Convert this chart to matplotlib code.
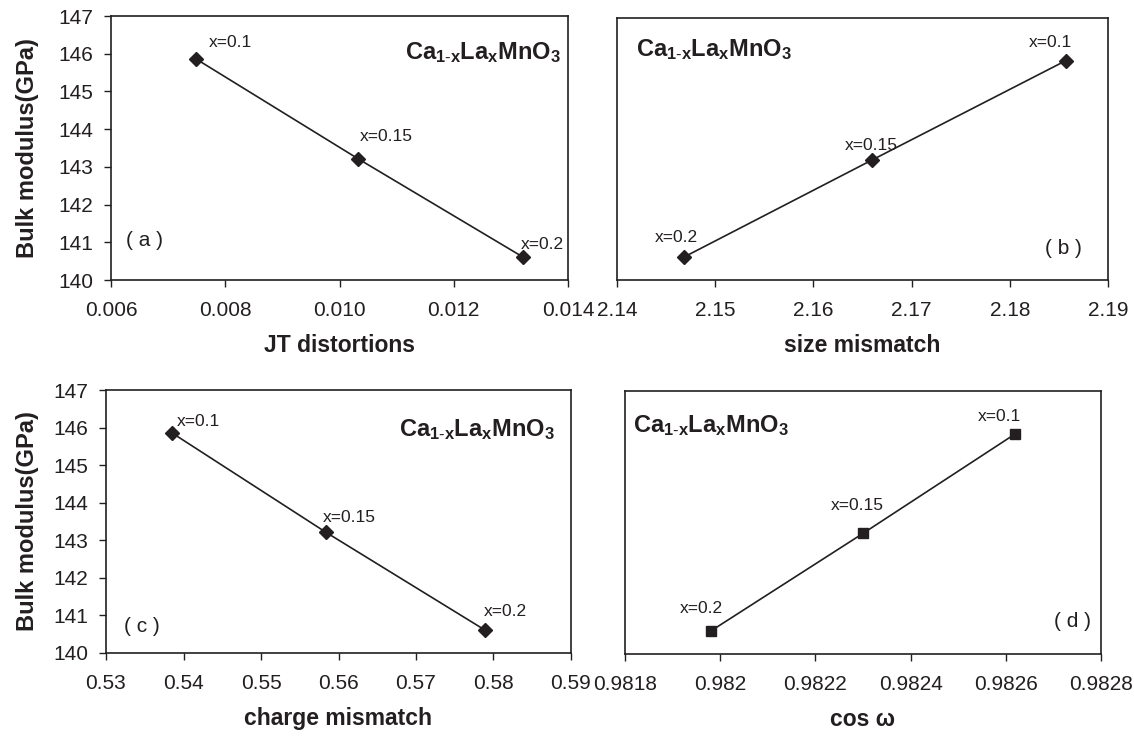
import matplotlib
matplotlib.use("Agg")
import matplotlib.pyplot as plt

plt.rcParams['font.family'] = ['Liberation Sans', 'DejaVu Sans']
plt.rcParams['mathtext.fontset'] = 'custom'
plt.rcParams['mathtext.rm'] = 'Liberation Sans'
plt.rcParams['mathtext.bf'] = 'Liberation Sans:bold'
plt.rcParams['mathtext.it'] = 'Liberation Sans:italic'

# data, ordered by composition x = 0.1, 0.15, 0.2
comp_labels = ['x=0.1', 'x=0.15', 'x=0.2']
bulk_modulus = [145.86, 143.21, 140.61]
jt_distortion = [0.00749, 0.01033, 0.01321]
size_mismatch = [2.1857, 2.1660, 2.1468]
charge_mismatch = [0.5385, 0.5584, 0.5789]
cos_omega = [0.98262, 0.98230, 0.98198]

y_ticks = [140, 141, 142, 143, 144, 145, 146, 147]
jt_ticks = [0.006, 0.008, 0.010, 0.012, 0.014]
jt_ticklabels = ['0.006', '0.008', '0.010', '0.012', '0.014']
size_ticks = [2.14, 2.15, 2.16, 2.17, 2.18, 2.19]
size_ticklabels = ['2.14', '2.15', '2.16', '2.17', '2.18', '2.19']
charge_ticks = [0.53, 0.54, 0.55, 0.56, 0.57, 0.58, 0.59]
charge_ticklabels = ['0.53', '0.54', '0.55', '0.56', '0.57', '0.58', '0.59']
cos_ticks = [0.9818, 0.9820, 0.9822, 0.9824, 0.9826, 0.9828]
cos_ticklabels = ['0.9818', '0.982', '0.9822', '0.9824', '0.9826', '0.9828']

INK = '#231f20'
FORMULA = r'$\mathbf{Ca_{1\text{-}x}La_{x}MnO_{3}}$'

fig = plt.figure(figsize=(11.34, 7.37), dpi=100)

W, H = 1134.0, 737.0


def rect(x0, y0, x1, y1):
    # pixel box (top-left origin) -> figure fraction rect
    return [x0 / W, 1 - y1 / H, (x1 - x0) / W, (y1 - y0) / H]


panels = [
    dict(xs=jt_distortion, ticks=jt_ticks, tl=jt_ticklabels, xlabel='JT distortions',
         box=rect(111, 16, 568, 280), marker='D', ms=7.5, ylab=True,
         tag='( a )', tag_xy=(0.033, 0.15), tag_ha='left',
         f_xy=(0.985, 0.86), f_ha='right',
         offs=[(13, 16, 'left'), (1, 22, 'left'), (-2, 12, 'left')]),
    dict(xs=size_mismatch, ticks=size_ticks, tl=size_ticklabels, xlabel='size mismatch',
         box=rect(617, 18, 1108, 280), marker='D', ms=7.5, ylab=False,
         tag='( b )', tag_xy=(0.947, 0.12), tag_ha='right',
         f_xy=(0.039, 0.88), f_ha='left',
         offs=[(-15, 18, 'center'), (-1, 14, 'center'), (-7, 20, 'center')]),
    dict(xs=charge_mismatch, ticks=charge_ticks, tl=charge_ticklabels, xlabel='charge mismatch',
         box=rect(106, 390, 571, 653), marker='D', ms=7.5, ylab=True,
         tag='( c )', tag_xy=(0.039, 0.10), tag_ha='left',
         f_xy=(0.966, 0.85), f_ha='right',
         offs=[(5, 11, 'left'), (-3, 15, 'left'), (-1, 19, 'left')]),
    dict(xs=cos_omega, ticks=cos_ticks, tl=cos_ticklabels, xlabel='cos ω',
         box=rect(625, 391, 1101, 654), marker='s', ms=7.5, ylab=False,
         tag='( d )', tag_xy=(0.98, 0.125), tag_ha='right',
         f_xy=(0.017, 0.87), f_ha='left',
         offs=[(-16, 17, 'center'), (-6, 28, 'center'), (-9.5, 23, 'center')]),
]

for p in panels:
    ax = fig.add_axes(p['box'])
    ax.plot(p['xs'], bulk_modulus, color=INK, linewidth=1.2,
            marker=p['marker'], markersize=p['ms'], markerfacecolor=INK,
            markeredgecolor=INK)
    ax.set_xlim(p['ticks'][0], p['ticks'][-1])
    ax.set_ylim(140, 147)
    ax.set_xticks(p['ticks'])
    ax.set_xticklabels(p['tl'])
    ax.tick_params(axis='x', direction='out', length=5, width=1.0, pad=10,
                   labelsize=15, colors=INK)
    if p['ylab']:
        ax.set_yticks(y_ticks)
        ax.tick_params(axis='y', direction='out', length=5, width=1.0, pad=8,
                       labelsize=15, colors=INK)
    else:
        ax.set_yticks([])
    for s in ax.spines.values():
        s.set_linewidth(1.2)
        s.set_color(INK)
    ax.set_xlabel(p['xlabel'], fontsize=16.5, fontweight='bold', color=INK, labelpad=10)

    for (dx, dy, ha), lab, xv, yv in zip(p['offs'], comp_labels, p['xs'], bulk_modulus):
        ax.annotate(lab, (xv, yv), xytext=(dx, dy), textcoords='offset pixels',
                    ha=ha, va='center', fontsize=12.5, color=INK)

    ax.text(p['tag_xy'][0], p['tag_xy'][1], p['tag'], transform=ax.transAxes,
            ha=p['tag_ha'], va='center', fontsize=15, color=INK)
    ax.text(p['f_xy'][0], p['f_xy'][1], FORMULA, transform=ax.transAxes,
            ha=p['f_ha'], va='center', fontsize=17, color=INK)

    if p['ylab']:
        b = p['box']
        fig.text(0.024, b[1] + b[3] / 2, 'Bulk modulus(GPa)', rotation=90,
                 ha='center', va='center', fontsize=17, fontweight='bold', color=INK)

fig.savefig('out.png', dpi=100)
